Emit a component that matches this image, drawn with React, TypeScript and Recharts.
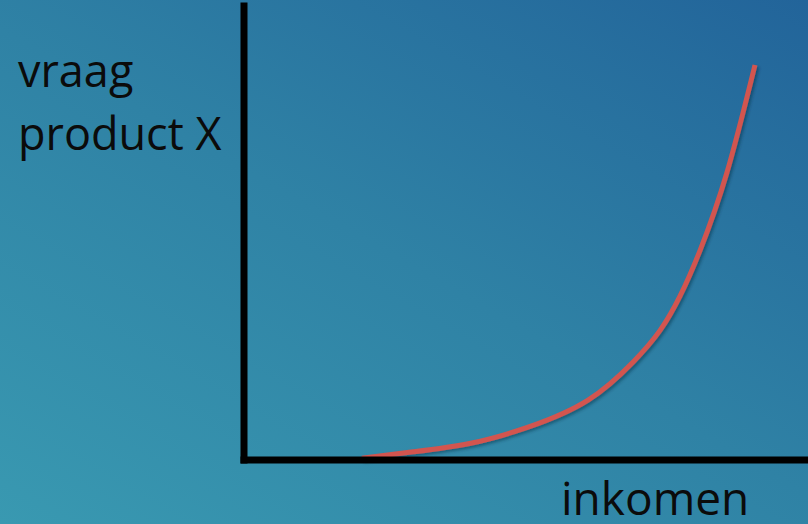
import React from "react";
import { LineChart, Line, XAxis, YAxis } from "recharts";

// inkomen (x) against vraag product X (y), both on a 0-100 scale
const inkomen = [20.9, 30, 40.2, 50.5, 61, 69, 73.8, 77.3, 80.9, 85.6, 90.6];
const vraag = [0.4, 1.8, 3.7, 7.3, 13.2, 21.6, 28.6, 36.1, 46.3, 63.2, 87];

const yLabel = ["vraag", "product X"];
const xLabel = "inkomen";

const data = inkomen.map((x, i) => ({ inkomen: x, vraag: vraag[i] }));

const axisStyle = { stroke: "#000", strokeWidth: 7, strokeLinecap: "square" as const };

const textStyle: React.CSSProperties = {
  position: "absolute",
  fontFamily: "'Open Sans', sans-serif",
  fontSize: 45,
  color: "#0b0b0b",
  lineHeight: "63px",
  whiteSpace: "nowrap",
  zIndex: 2,
};

const App = () => {
  return (
    <div
      style={{
        position: "fixed",
        left: 0,
        top: 0,
        width: 808,
        height: 524,
        background: "linear-gradient(30deg, #3999b1 0%, #2f82a5 50%, #22649a 100%)",
        overflow: "hidden",
      }}
    >
      <div style={{ ...textStyle, left: 18, top: 38 }}>
        {yLabel[0]}
        <br />
        {yLabel[1]}
      </div>
      <div style={{ ...textStyle, fontSize: 46, lineHeight: "46px", left: 561, top: 474 }}>
        {xLabel}
      </div>

      <LineChart
        width={808}
        height={524}
        data={data}
        margin={{ top: 6, right: 0, bottom: 63, left: 243 }}
        style={{ position: "absolute", left: 0, top: 0 }}
      >
        <defs>
          <filter id="shade" x="-10%" y="-10%" width="130%" height="130%">
            <feDropShadow dx="2" dy="2" stdDeviation="1.5" floodColor="#0a2a40" floodOpacity="0.45" />
          </filter>
        </defs>

        <XAxis
          type="number"
          dataKey="inkomen"
          domain={[0, 100]}
          height={1}
          tick={false}
          tickLine={false}
          axisLine={axisStyle}
        />

        <YAxis
          type="number"
          domain={[0, 100]}
          width={1}
          tick={false}
          tickLine={false}
          axisLine={axisStyle}
        />

        <Line
          type="natural"
          dataKey="vraag"
          stroke="#d2554f"
          strokeWidth={5}
          dot={false}
          filter="url(#shade)"
          isAnimationActive={false}
        />
      </LineChart>
    </div>
  );
};

export default App;
